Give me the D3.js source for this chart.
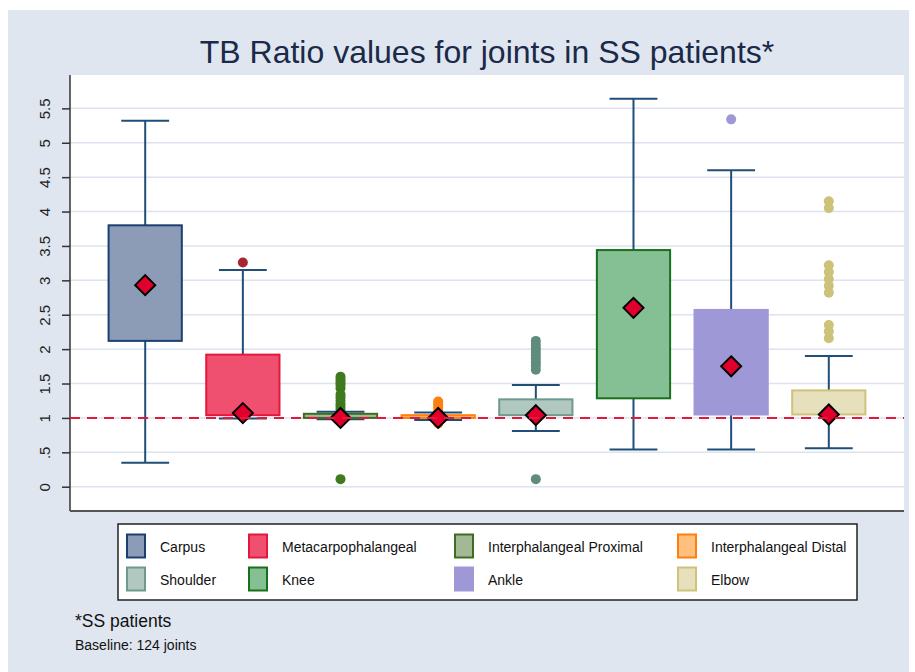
<!DOCTYPE html>
<html>
<head>
<meta charset="utf-8">
<script src="https://cdn.jsdelivr.net/npm/d3@7"></script>
<style>
  body { margin: 0; background: #fff; }
  svg { display: block; font-family: "Liberation Sans", Arial, sans-serif; }
</style>
</head>
<body>
<svg id="chart" width="915" height="672"></svg>
<script>
// joints and their box plot summaries
const joints = ["Carpus", "Metacarpophalangeal", "Interphalangeal Proximal", "Interphalangeal Distal",
                "Shoulder", "Knee", "Ankle", "Elbow"];
const whiskerLow = [0.35, 0.99, 0.98, 0.97, 0.81, 0.54, 0.54, 0.56];
const q1 = [2.12, 1.04, 1.0, 1.0, 1.04, 1.285, 1.05, 1.05];
const q3 = [3.80, 1.92, 1.06, 1.04, 1.27, 3.44, 2.57, 1.40];
const whiskerHigh = [5.32, 3.15, 1.09, 1.08, 1.48, 5.64, 4.60, 1.90];
const means = [2.93, 1.07, 1.0, 1.0, 1.04, 2.60, 1.75, 1.05];
const outliers = [
    [],
    [3.26],
    [1.60, 1.56, 1.52, 1.48, 1.43, 1.34, 1.30, 1.25, 1.20, 1.16, 1.12, 0.11],
    [1.24, 1.20, 1.15, 1.10, 0.95, 0.92],
    [2.12, 2.06, 2.01, 1.96, 1.91, 1.86, 1.81, 1.76, 1.70, 0.11],
    [],
    [5.34],
    [4.15, 4.05, 3.22, 3.12, 3.02, 2.92, 2.82, 2.35, 2.26, 2.16]
];
const yTicks = [0, 0.5, 1, 1.5, 2, 2.5, 3, 3.5, 4, 4.5, 5, 5.5];
const baseline = 1;

const fills = ["#8c9cb7", "#ef5070", "#a3b996", "#ffbf7f", "#b0c8bf", "#85c094", "#9e98d6", "#e6e1bc"];
const strokes = ["#1b3f72", "#e4173c", "#3c6e1f", "#ff7f0e", "#6f9a8b", "#18701b", "#9e98d6", "#cfc27c"];
const dotColors = ["#1b3f72", "#a8262f", "#3f7a1e", "#ff7f0e", "#5f8c7d", "#18701b", "#9e98d6", "#cdc27a"];

const svg = d3.select("#chart");

// outer panel
svg.append("rect").attr("x", 8).attr("y", 10).attr("width", 901).attr("height", 662).attr("fill", "#dfe6f0");

const plot = { left: 70, right: 904, top: 75, bottom: 511 };

svg.append("rect")
    .attr("x", plot.left).attr("y", plot.top)
    .attr("width", plot.right - plot.left).attr("height", plot.bottom - plot.top)
    .attr("fill", "#fff");

const y = d3.scaleLinear().domain([-0.353, 5.985]).range([plot.bottom, plot.top]);
const x = d3.scalePoint().domain(joints).range([plot.left, plot.right]).padding(0.77);
const step = x.step();
const boxW = step * 0.75;
const capW = step * 0.49;

// grid
svg.append("g")
    .selectAll("line")
    .data(yTicks)
    .enter()
    .append("line")
    .attr("x1", plot.left).attr("x2", plot.right)
    .attr("y1", (d) => y(d)).attr("y2", (d) => y(d))
    .attr("stroke", "#dce3ee").attr("stroke-width", 1.5);

// y axis
const yAxis = svg.append("g")
    .attr("transform", `translate(${plot.left},0)`)
    .call(d3.axisLeft(y).tickValues(yTicks).tickSize(8).tickPadding(0)
        .tickFormat((d) => String(d).replace(/^0\./, ".")));
yAxis.select(".domain").attr("stroke", "#333").attr("stroke-width", 1.5).attr("d", `M0,${plot.top}V${plot.bottom}`);
yAxis.selectAll(".tick line").attr("stroke", "#333").attr("stroke-width", 1.5);
yAxis.selectAll(".tick text")
    .attr("transform", "rotate(-90)")
    .attr("x", 0).attr("y", -25)
    .attr("text-anchor", "middle")
    .attr("dy", "0.35em")
    .attr("fill", "#222")
    .style("font-size", "15px");

// bottom line
svg.append("line")
    .attr("x1", plot.left).attr("x2", plot.right)
    .attr("y1", plot.bottom).attr("y2", plot.bottom)
    .attr("stroke", "#555").attr("stroke-width", 2);

const box = svg.append("g")
    .selectAll("g")
    .data(joints)
    .enter()
    .append("g")
    .attr("transform", (d) => `translate(${x(d)},0)`);

// whiskers
box.append("line")
    .attr("y1", (d, i) => y(whiskerHigh[i])).attr("y2", (d, i) => y(q3[i]))
    .attr("stroke", "#1f4e79").attr("stroke-width", 2);
box.append("line")
    .attr("y1", (d, i) => y(whiskerLow[i])).attr("y2", (d, i) => y(q1[i]))
    .attr("stroke", "#1f4e79").attr("stroke-width", 2);
box.append("line")
    .attr("x1", -capW / 2).attr("x2", capW / 2)
    .attr("y1", (d, i) => y(whiskerHigh[i])).attr("y2", (d, i) => y(whiskerHigh[i]))
    .attr("stroke", "#1f4e79").attr("stroke-width", 2);
box.append("line")
    .attr("x1", -capW / 2).attr("x2", capW / 2)
    .attr("y1", (d, i) => y(whiskerLow[i])).attr("y2", (d, i) => y(whiskerLow[i]))
    .attr("stroke", "#1f4e79").attr("stroke-width", 2);

// boxes
box.append("rect")
    .attr("x", -boxW / 2).attr("width", boxW)
    .attr("y", (d, i) => y(q3[i]))
    .attr("height", (d, i) => Math.max(1, y(q1[i]) - y(q3[i])))
    .attr("fill", (d, i) => fills[i])
    .attr("stroke", (d, i) => strokes[i])
    .attr("stroke-width", 2);

// baseline
svg.append("line")
    .attr("x1", plot.left).attr("x2", plot.right)
    .attr("y1", y(baseline)).attr("y2", y(baseline))
    .attr("stroke", "#e4173c").attr("stroke-width", 2)
    .attr("stroke-dasharray", "10,7");

// outliers
box.each(function (d, i) {
    d3.select(this).selectAll("circle")
        .data(outliers[i])
        .enter()
        .append("circle")
        .attr("cx", 0).attr("cy", (v) => y(v))
        .attr("r", 5)
        .attr("fill", dotColors[i]);
});

// mean diamonds
box.append("path")
    .attr("d", "M0,-10L10,0L0,10L-10,0Z")
    .attr("transform", (d, i) => `translate(0,${y(means[i])})`)
    .attr("fill", "#e0002b").attr("stroke", "#000").attr("stroke-width", 2);

// title
svg.append("text")
    .attr("x", (plot.left + plot.right) / 2).attr("y", 63)
    .attr("text-anchor", "middle")
    .attr("fill", "#1a2a48")
    .style("font-size", "32px")
    .text("TB Ratio values for joints in SS patients*");

// legend
svg.append("rect")
    .attr("x", 118).attr("y", 524).attr("width", 739).attr("height", 76)
    .attr("fill", "#fff").attr("stroke", "#222").attr("stroke-width", 1.5);

const legendCols = [127, 249, 455, 678];
const legendRows = [546, 579];
const item = svg.append("g")
    .selectAll("g")
    .data(joints)
    .enter()
    .append("g")
    .attr("transform", (d, i) => `translate(${legendCols[i % 4]},${legendRows[Math.floor(i / 4)]})`);
item.append("rect")
    .attr("x", 0).attr("y", -11.5).attr("width", 18).attr("height", 23)
    .attr("fill", (d, i) => fills[i])
    .attr("stroke", (d, i) => strokes[i]).attr("stroke-width", 2);
item.append("text")
    .attr("x", 33).attr("y", 6)
    .attr("fill", "#111")
    .style("font-size", "14px")
    .text((d) => d);

// notes
svg.append("text").attr("x", 75).attr("y", 627).attr("fill", "#111")
    .style("font-size", "17.5px").text("*SS patients");
svg.append("text").attr("x", 75).attr("y", 650).attr("fill", "#111")
    .style("font-size", "14px").text("Baseline: 124 joints");
</script>
</body>
</html>
